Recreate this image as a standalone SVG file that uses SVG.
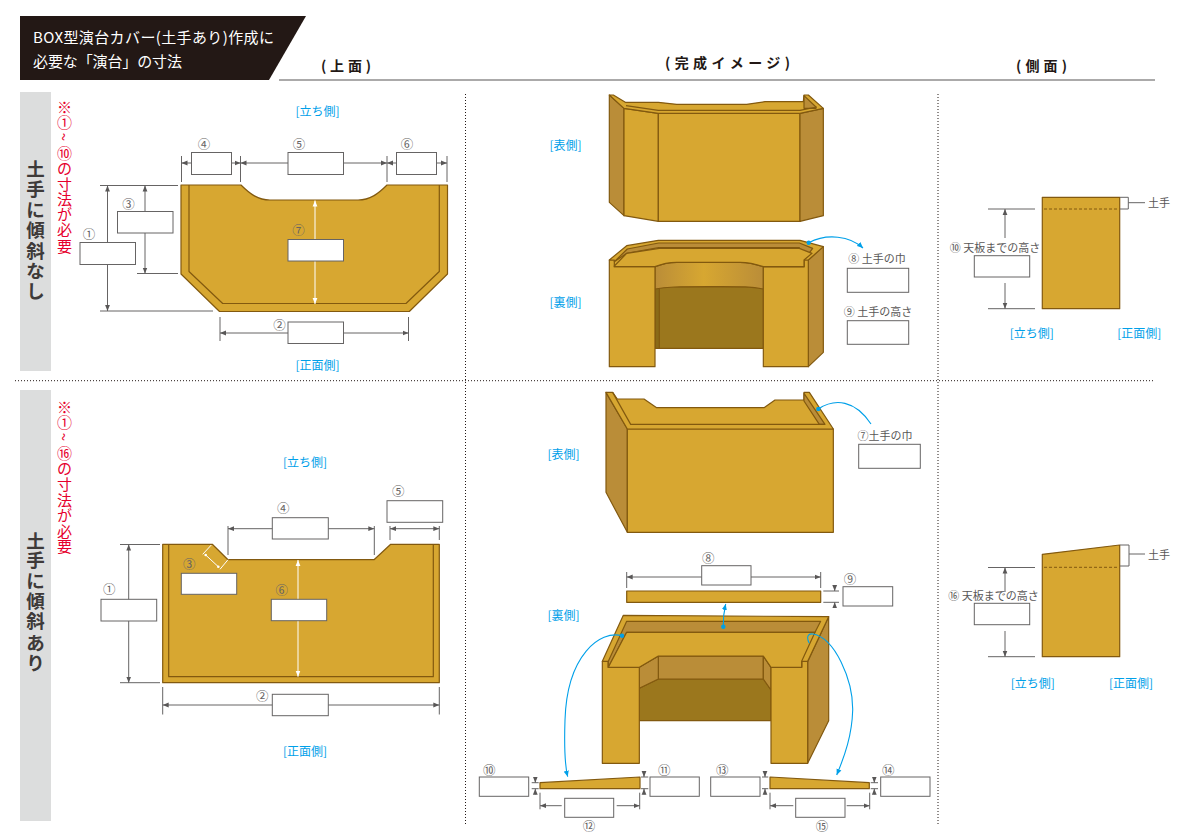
<svg xmlns="http://www.w3.org/2000/svg" width="1190" height="840" viewBox="0 0 1190 840">
<style>
text{font-family:"Noto Sans CJK JP","Liberation Sans",sans-serif}
.g,.s,.d,.dd{stroke:#82590f;stroke-width:1.2;stroke-linejoin:round;vector-effect:non-scaling-stroke}
.g{fill:#d7a731}.s{fill:#ba8d38}.d{fill:#9b771d}.dd{fill:#8a6a18}
.b{fill:#fff;stroke:#666464;stroke-width:1}
.l{fill:none;stroke:#666464;stroke-width:1}
.w{fill:none;stroke:#fff;stroke-width:1}
.c{fill:none;stroke:#00a0e9;stroke-width:1.1}
.n{font-size:12.500px;fill:#666464;text-anchor:middle;dominant-baseline:central}
.t{font-size:11px;fill:#595757;text-anchor:middle;dominant-baseline:central}
.bl{font-size:12px;fill:#00a0e9;text-anchor:middle;dominant-baseline:central}
.h{font-size:15px;fill:#fff;dominant-baseline:central}
.sec{font-size:14px;font-weight:700;fill:#231815;dominant-baseline:central}
.v{font-size:18.500px;font-weight:700;fill:#3e3a39;text-anchor:middle;dominant-baseline:central}
.r{font-size:15px;fill:#e6002d;text-anchor:middle;dominant-baseline:central}
.dot{fill:none;stroke:#231815;stroke-width:1;stroke-dasharray:1 2}
</style>
<defs>
<marker id="a" markerUnits="userSpaceOnUse" markerWidth="7" markerHeight="6" refX="6" refY="3" orient="auto-start-reverse"><path d="M0,.6L6,3L0,5.4Z" fill="#595757"/></marker>
<marker id="aw" markerUnits="userSpaceOnUse" markerWidth="7" markerHeight="6" refX="6" refY="3" orient="auto-start-reverse"><path d="M0,.6L6,3L0,5.4Z" fill="#fff"/></marker>
<marker id="ab" markerUnits="userSpaceOnUse" markerWidth="7" markerHeight="6" refX="6" refY="3" orient="auto"><path d="M0,.4L6,3L0,5.6Z" fill="#00a0e9"/></marker>
<marker id="ad" markerUnits="userSpaceOnUse" markerWidth="5" markerHeight="5" refX="2.500" refY="2.500"><circle cx="2.500" cy="2.500" r="2.200" fill="#00a0e9"/></marker>
<linearGradient id="band"><stop offset="0" stop-color="#ba8d38"/><stop offset=".45" stop-color="#d7a731"/><stop offset="1" stop-color="#ba8d38"/></linearGradient>
</defs>

<g id="header">
<path d="M20,16H306L269,80H20Z" fill="#231815"/>
<text class="h" x="33" y="36" textLength="241">BOX型演台カバー(土手あり)作成に</text>
<text class="h" x="33" y="60" textLength="149">必要な「演台」の寸法</text>
</g>
<g id="section-titles">
<path d="M279,80H1155" fill="none" stroke="#595757" stroke-width="1.200"/>
<text class="sec" x="321" y="65" textLength="50">(上面)</text>
<text class="sec" x="665" y="62" textLength="125">(完成イメージ)</text>
<text class="sec" x="1016" y="65" textLength="51">(側面)</text>
</g>
<g id="dividers">
<path class="dot" d="M465.500,94V825M938,94V825M15,380.700H1155"/>
</g>
<g id="row-labels">
<rect x="20" y="92" width="31" height="279" fill="#dcdddd"/>
<rect x="20" y="390" width="31" height="431" fill="#dcdddd"/>
<text class="v" x="35.500 35.500 35.500 35.500 35.500 35.500 35.500" y="168 188 209 229 250 270 290">土手に傾斜なし</text>
<text class="v" x="35.500 35.500 35.500 35.500 35.500 35.500 35.500" y="540 559 580 600 620 642 662">土手に傾斜あり</text>
<text class="r" x="64.500 64.500" y="106 121">※①</text>
<text class="r" transform="translate(64.500,137) rotate(90)" x="0" y="0">~</text>
<text class="r" x="64.500 64.500 64.500 64.500 64.500 64.500 64.500" y="152 167 183 198 213 228 245">⑩の寸法が必要</text>
<text class="r" x="64.500 64.500" y="406 421">※①</text>
<text class="r" transform="translate(64.500,437) rotate(90)" x="0" y="0">~</text>
<text class="r" x="64.500 64.500 64.500 64.500 64.500 64.500 64.500" y="452 467 483 499 514 530 545">⑯の寸法が必要</text>
</g>

<g id="top-view-1">
<path class="g" d="M181,185H241C250,194 258,200 270,200H358C370,200 378,194 387,185H447.500V274L409.300,311.500H219.500L181,274Z"/>
<path class="g" style="fill:none" d="M189,185V271.500L222.700,303.500H406L439.300,271.500V185"/>
</g>
<g id="top-view-2">
<path class="g" d="M162.700,544.300H212.300L228,559.700H374L390.700,544.300H439.300V682.700H162.700Z"/>
<path class="g" style="fill:none" d="M168.700,544.300V676.700H433.300V544.300"/>
</g>

<g id="complete-front-1" transform="translate(520,85) scale(.33333)">
<path class="s" d="M268,30L312,70V392L268,352Z"/>
<path class="g" d="M312,70L415,85V409L312,392Z"/>
<path class="g" d="M415,85H840V409H415Z"/>
<path class="s" d="M840,85L910,70V392L840,409Z"/>
<path class="g" d="M268,30H280L316,52H415L470,58H680L735,50H850L852,30H865L910,70L840,85H415L312,70Z"/>
<path class="s" d="M852,32V50L852,70H888V66Z"/>
<path class="g" style="fill:none" d="M318,62L415,76H840L890,66"/>
</g>
<g id="complete-back-1" transform="translate(520,85) scale(.33333)">
<path class="s" d="M865,525L910,485V802L865,845Z"/>
<path class="d" d="M405,605H730V790H405Z"/>
<path class="dd" d="M405,605H418V790H405Z"/>
<path d="M405,530H730V612C690,604 660,605 567,605C470,605 440,605 405,612Z" fill="url(#band)" stroke="#82590f" style="stroke-width:1.100;vector-effect:non-scaling-stroke"/>
<path class="g" d="M268,525H405V845H268Z"/>
<path class="g" d="M730,545H852V525H865V845H730Z"/>
<path class="g" d="M268,525L320,482L415,466H840L910,485L865,525H852V545H730C700,535 680,532 660,532H470C450,532 430,535 405,545H283V525Z"/>
<path class="s" d="M283,530L322,492L416,474H838L878,490L852,525L838,488H416L320,505Z"/>
<path class="g" d="M283,543L320,505L418,490H838L876,505L852,525V545H730C700,535 680,532 660,532H470C450,532 430,535 405,545H283Z"/>
</g>
<g id="complete-front-2" transform="translate(470,385) scale(.33333)">
<path class="s" d="M408,22L472,132V442L408,322Z"/>
<path class="g" d="M472,132H1090V442H472Z"/>
<path class="g" d="M408,22H428L442,42H522L560,68H882L915,45H1002V22H1018L1090,132H472Z"/>
<path class="s" d="M1002,25V48L1048,118H1065Z"/>
<path class="g" style="fill:none" d="M428,22L482,118H1065"/>
</g>
<g id="lid-bar"><rect class="g" x="626.700" y="591" width="194" height="11.300"/></g>
<g id="complete-back-2" transform="translate(470,600) scale(.33333)">
<path class="s" d="M1013,185L1076,50V362L1013,490Z"/>
<path class="d" d="M508,265L565,237H880L903,270V362H508Z"/>
<path class="s" d="M565,168H880V237H565Z"/>
<path class="s" d="M508,200L565,168V237L508,265Z"/>
<path class="s" d="M880,168L903,200V270L880,237Z"/>
<path class="g" d="M397,184H415V202H508V490H397Z"/>
<path class="g" d="M903,202H995V184H1013V490H903Z"/>
<path class="g" d="M397,184L460,46L1076,50L1013,184H995V202H903L880,168H565L508,202H415V184Z"/>
<path class="s" d="M415,184L470,64H1052L1035,97H470L415,202Z"/>
<path class="g" d="M415,202L470,97H1035L995,184V202H903L880,168H565L508,202Z"/>
</g>
<g id="wedge-left"><path class="g" d="M540,782.700L640,777V788.700H540Z"/></g>
<g id="wedge-right"><path class="g" d="M770,777L869.300,782.700V788.700H770Z"/></g>

<g id="side-view-1">
<rect class="g" x="1042.300" y="197.300" width="77.400" height="111.400"/>
<path d="M1044,209H1119" fill="none" stroke="#82590f" stroke-width="1" stroke-dasharray="3 2"/>
<text class="t" x="1159" y="202">土手</text>
</g>
<g id="side-view-2">
<path class="g" d="M1042.300,554.300L1119.700,545V656.700H1042.300Z"/>
<path d="M1044,567.300H1119" fill="none" stroke="#82590f" stroke-width="1" stroke-dasharray="3 2"/>
<text class="t" x="1159" y="553.500">土手</text>
</g>

<g id="connectors">
<path class="l" d="M181.500,156V182M240.500,156V182M387,156V182M447,156V182"/>
<path class="l" marker-start="url(#a)" d="M181.500,163H192"/><path class="l" marker-end="url(#a)" d="M231,163H240.500"/>
<path class="l" marker-start="url(#a)" marker-end="url(#a)" d="M240.500,163H387"/>
<path class="l" marker-start="url(#a)" d="M387,163H397"/><path class="l" marker-end="url(#a)" d="M436,163H447"/>
<path class="l" d="M100,185.500H178M100,311H213M137,273.500H178M220,317V341M408.500,317V341"/>
<path class="l" marker-start="url(#a)" marker-end="url(#a)" d="M107.500,185.500V311"/>
<path class="l" marker-start="url(#a)" marker-end="url(#a)" d="M145,185.500V273.500"/>
<path class="l" marker-start="url(#a)" marker-end="url(#a)" d="M220,333H408.500"/>
<path class="w" marker-start="url(#aw)" marker-end="url(#aw)" d="M315,200.500V304"/>

<path class="l" d="M120,544.500H160M120,682.700H160M162.700,687V714.500M439.300,687V714.500M228,526V555M374.300,526V555M390,526V540M439.300,526V540"/>
<path class="l" marker-start="url(#a)" marker-end="url(#a)" d="M128.700,544.500V682.700"/>
<path class="l" marker-start="url(#a)" marker-end="url(#a)" d="M162.700,705H439.300"/>
<path class="l" marker-start="url(#a)" marker-end="url(#a)" d="M228,528.700H374.300"/>
<path class="l" marker-start="url(#a)" marker-end="url(#a)" d="M390,528.700H439.300"/>
<path class="w" marker-start="url(#aw)" marker-end="url(#aw)" d="M298,560V676.700"/>
<path class="w" d="M211.300,545L202.700,554.300M220,569.300L228,559.700M205.700,555L218.300,566.700"/>
<circle cx="205.700" cy="555" r="1.300" fill="#fff"/><circle cx="218.300" cy="566.700" r="1.300" fill="#fff"/>

<path class="l" d="M626.700,572V588M820.700,572V588M823.300,591H839M823.300,602.300H839"/>
<path class="l" marker-start="url(#a)" marker-end="url(#a)" d="M626.700,577H820.700"/>
<path class="l" marker-end="url(#a)" d="M834.700,585V591"/><path class="l" marker-end="url(#a)" d="M834.700,608V602.300"/>

<path class="l" d="M540,792.700V809.300M639.700,792.700V809.300M770,792.700V809.300M869.700,792.700V809.300"/>
<path class="l" marker-start="url(#a)" d="M540,805.700H561.700"/><path class="l" marker-end="url(#a)" d="M616.700,805.700H639.700"/>
<path class="l" marker-start="url(#a)" d="M770,805.700H793.300"/><path class="l" marker-end="url(#a)" d="M846.700,805.700H869.700"/>
<path class="l" d="M531.700,782.700H538.700M531.700,788.700H538.700M641,777H648.300M641,788.700H648.300M762,777H768.300M762,788.700H768.300M870.700,782.700H878M870.700,788.700H878"/>
<path class="l" marker-end="url(#a)" d="M535.300,777V782.700"/><path class="l" marker-end="url(#a)" d="M535.300,794.500V788.700"/>
<path class="l" marker-end="url(#a)" d="M644,771V777"/><path class="l" marker-end="url(#a)" d="M644,794.500V788.700"/>
<path class="l" marker-end="url(#a)" d="M765,771V777"/><path class="l" marker-end="url(#a)" d="M765,794.500V788.700"/>
<path class="l" marker-end="url(#a)" d="M874.300,777V782.700"/><path class="l" marker-end="url(#a)" d="M874.300,794.500V788.700"/>

<path class="l" d="M1120,197.300H1128.300V209H1120M1128.300,202.700H1145M988,209H1035M988,308.700H1035"/>
<path class="l" marker-end="url(#a)" d="M1005,238V209"/><path class="l" marker-end="url(#a)" d="M1005,283V308.700"/>
<path class="l" d="M1120,545H1129V566H1120M1129,554H1145M988,567.500H1035M988,656.700H1035"/>
<path class="l" marker-end="url(#a)" d="M1005,592V567.500"/><path class="l" marker-end="url(#a)" d="M1005,631V656.700"/>

<path class="c" marker-start="url(#ad)" marker-end="url(#ab)" d="M808.700,242.700C827,233 850,236 863,248"/>
<path class="c" marker-start="url(#ad)" d="M818.300,409C835,398 855,400 871,424"/>
<path class="c" marker-start="url(#ad)" marker-end="url(#ab)" d="M723.300,626.700C723,618 724,611 725.700,604"/>
<path class="c" marker-start="url(#ad)" marker-end="url(#ab)" d="M622,635.700C600,630 567,655 565,720C564,750 566,770 567.700,776.700"/>
<path class="c" marker-end="url(#ab)" d="M809.300,643.300C806,637 808,633 813,634C835,638 853,680 852.700,710C852,735 845,755 836.700,775"/>
</g>

<g id="t1-n4"><rect class="b" x="191.500" y="152.500" width="40" height="22"/><text class="n" x="204" y="143.500">④</text></g>
<g id="t1-n5"><rect class="b" x="288" y="152.500" width="55.500" height="22"/><text class="n" x="299" y="143.500">⑤</text></g>
<g id="t1-n6"><rect class="b" x="396.500" y="152.500" width="40" height="22"/><text class="n" x="407" y="143.500">⑥</text></g>
<g id="t1-n3"><rect class="b" x="117.500" y="211.500" width="55.500" height="21.500"/><text class="n" x="128.500" y="203.500">③</text></g>
<g id="t1-n1"><rect class="b" x="80" y="242.500" width="55.500" height="22"/><text class="n" x="89" y="233.500">①</text></g>
<g id="t1-n7"><rect class="b" x="288" y="239.500" width="55.500" height="21.500"/><text class="n" x="298.500" y="229">⑦</text></g>
<g id="t1-n2"><rect class="b" x="288" y="322" width="55.500" height="21.500"/><text class="n" x="279.500" y="324.500">②</text></g>

<g id="t2-n1"><rect class="b" x="101" y="599.300" width="55.700" height="21.700"/><text class="n" x="109.300" y="588.500">①</text></g>
<g id="t2-n3"><rect class="b" x="181.300" y="573.300" width="55.400" height="21"/><text class="n" x="189.300" y="563">③</text></g>
<g id="t2-n6"><rect class="b" x="271.300" y="599.300" width="55.400" height="21.400"/><text class="n" x="281.700" y="589">⑥</text></g>
<g id="t2-n4"><rect class="b" x="272.300" y="517.700" width="56" height="21.300"/><text class="n" x="283.300" y="507.200">④</text></g>
<g id="t2-n5"><rect class="b" x="387" y="500.700" width="55.700" height="21.600"/><text class="n" x="398.300" y="490.200">⑤</text></g>
<g id="t2-n2"><rect class="b" x="272.300" y="694.300" width="56" height="21.400"/><text class="n" x="262.300" y="695.500">②</text></g>

<g id="m1-n8"><rect class="b" x="847.300" y="268.300" width="61.400" height="24"/><text class="t" x="877" y="257.500">⑧ 土手の巾</text></g>
<g id="m1-n9"><rect class="b" x="847.300" y="320.700" width="61.400" height="23.600"/><text class="t" x="878" y="311">⑨ 土手の高さ</text></g>
<g id="m2-n7"><rect class="b" x="858.700" y="444.300" width="61.600" height="24"/><text class="t" x="885" y="434.500">⑦土手の巾</text></g>
<g id="m2-n8"><rect class="b" x="701.700" y="565.700" width="49.300" height="19.300"/><text class="n" x="708.300" y="557.200">⑧</text></g>
<g id="m2-n9"><rect class="b" x="843" y="586.700" width="49.700" height="19.300"/><text class="n" x="850" y="578.200">⑨</text></g>
<g id="m2-n10"><rect class="b" x="479.300" y="777" width="49.400" height="19.300"/><text class="n" x="489.300" y="769.500">⑩</text></g>
<g id="m2-n11"><rect class="b" x="650" y="777" width="49.300" height="19.300"/><text class="n" x="664.300" y="769.500">⑪</text></g>
<g id="m2-n12"><rect class="b" x="564.700" y="798.300" width="49" height="19"/><text class="n" x="589" y="825.500">⑫</text></g>
<g id="m2-n13"><rect class="b" x="710.700" y="777" width="49.300" height="19.300"/><text class="n" x="722.300" y="769.500">⑬</text></g>
<g id="m2-n14"><rect class="b" x="880.700" y="777" width="49.300" height="19.300"/><text class="n" x="888.300" y="769.500">⑭</text></g>
<g id="m2-n15"><rect class="b" x="795.700" y="798.300" width="49.300" height="19"/><text class="n" x="822" y="825.500">⑮</text></g>

<g id="s1-n10"><rect class="b" x="974.300" y="255.700" width="55.400" height="21.300"/><text class="t" x="995" y="246.500">⑩ 天板までの高さ</text></g>
<g id="s2-n16"><rect class="b" x="974.300" y="603.300" width="55.400" height="21.400"/><text class="t" x="993.500" y="594.500">⑯ 天板までの高さ</text></g>

<g id="side-labels">
<text class="bl" x="317.500" y="110">[立ち側]</text>
<text class="bl" x="317.500" y="364">[正面側]</text>
<text class="bl" x="305" y="461.700">[立ち側]</text>
<text class="bl" x="305" y="750">[正面側]</text>
<text class="bl" x="565.500" y="144">[表側]</text>
<text class="bl" x="565.500" y="301">[裏側]</text>
<text class="bl" x="563.500" y="453.300">[表側]</text>
<text class="bl" x="563.500" y="614.700">[裏側]</text>
<text class="bl" x="1031.700" y="332.500">[立ち側]</text>
<text class="bl" x="1139.300" y="332.500">[正面側]</text>
<text class="bl" x="1032.700" y="682.500">[立ち側]</text>
<text class="bl" x="1131" y="682.500">[正面側]</text>
</g>
</svg>
